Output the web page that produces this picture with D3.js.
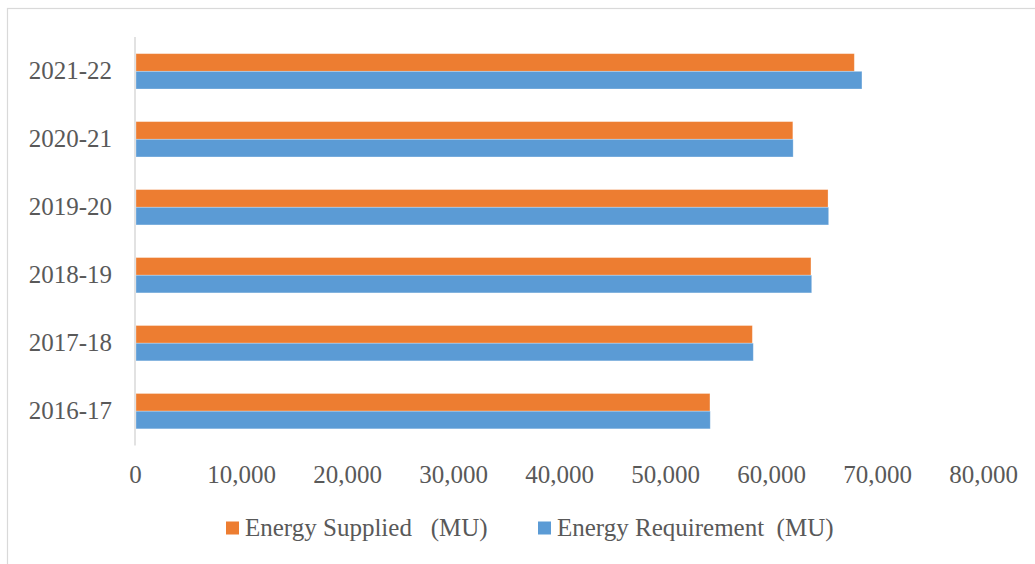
<!DOCTYPE html>
<html>
<head>
<meta charset="utf-8">
<script src="https://cdn.jsdelivr.net/npm/d3@7"></script>
<style>
  html, body { margin: 0; padding: 0; background: #ffffff; }
  svg { display: block; }
  text { font-family: "Liberation Serif", "Times New Roman", serif; fill: #595959; }
</style>
</head>
<body>
<svg id="chart" width="1035" height="564"></svg>
<script>
// Financial years, listed bottom to top on the chart
const years = ["2016-17", "2017-18", "2018-19", "2019-20", "2020-21", "2021-22"];
const seriesNames = ["Energy Supplied   (MU)", "Energy Requirement  (MU)"];
const energySupplied = [54240, 58240, 63770, 65380, 62060, 67860];
const energyRequirement = [54270, 58330, 63840, 65440, 62090, 68580];
const xTicks = [0, 10000, 20000, 30000, 40000, 50000, 60000, 70000, 80000];
const colors = ["#ED7D31", "#5B9BD5"];

const svg = d3.select("#chart");

// Outer chart frame
svg.append("rect")
  .attr("x", 7.5).attr("y", 8.5)
  .attr("width", 1040).attr("height", 570)
  .attr("fill", "none")
  .attr("stroke", "#d9d9d9")
  .attr("stroke-width", 1.2);

const x = d3.scaleLinear().domain([0, 80000]).range([135, 983]);

// Top category first so that 2021-22 sits at the top
const y = d3.scaleBand()
  .domain(years.slice().reverse())
  .range([37, 445.5])
  .paddingInner(0.48)
  .paddingOuter(0.245);

const sub = d3.scaleBand()
  .domain([0, 1])
  .range([0, y.bandwidth()]);

const rows = years.map((yr, i) => ({
  year: yr,
  values: [energySupplied[i], energyRequirement[i]]
}));

const groups = svg.append("g").selectAll("g")
  .data(rows)
  .join("g")
  .attr("transform", d => `translate(0,${y(d.year)})`);

groups.selectAll("rect")
  .data(d => d.values.map((v, k) => ({ v, k })))
  .join("rect")
  .attr("x", x(0) + 1)
  .attr("y", d => sub(d.k))
  .attr("width", d => x(d.v) - x(0) - 1)
  .attr("height", sub.bandwidth())
  .attr("fill", d => colors[d.k])
  .attr("stroke", "#ffffff")
  .attr("stroke-opacity", 0.35)
  .attr("stroke-width", 0.8);

// Category axis line
svg.append("line")
  .attr("x1", x(0)).attr("x2", x(0))
  .attr("y1", 37).attr("y2", 445.5)
  .attr("stroke", "#d9d9d9")
  .attr("stroke-width", 1.5);

// Category labels
const yAxis = d3.axisLeft(y).tickSize(0).tickPadding(0);
const yg = svg.append("g").attr("transform", "translate(112,0)").call(yAxis);
yg.select(".domain").remove();
yg.selectAll("text")
  .attr("font-size", 25)
  .attr("dy", null)
  .attr("y", 8)
  .attr("x", 0)
  .style("fill", "#595959")
  .style("font-family", "'Liberation Serif', serif");

// Value axis labels
const fmt = d3.format(",");
const xAxis = d3.axisBottom(x).tickValues(xTicks).tickFormat(fmt).tickSize(0).tickPadding(0);
const xg = svg.append("g").attr("transform", "translate(0,483)").call(xAxis);
xg.select(".domain").remove();
xg.selectAll("text")
  .attr("font-size", 25)
  .attr("dy", null)
  .attr("y", 0)
  .style("fill", "#595959")
  .style("font-family", "'Liberation Serif', serif");

// Legend
const legendX = [226, 538];
const legend = svg.append("g").selectAll("g")
  .data(seriesNames)
  .join("g")
  .attr("transform", (d, i) => `translate(${legendX[i]},0)`);
legend.append("rect")
  .attr("x", 0).attr("y", 521.5)
  .attr("width", 13).attr("height", 13)
  .attr("fill", (d, i) => colors[i]);
legend.append("text")
  .attr("x", 19).attr("y", 536)
  .attr("font-size", 25)
  .style("white-space", "pre")
  .attr("xml:space", "preserve")
  .text(d => d);
</script>
</body>
</html>
